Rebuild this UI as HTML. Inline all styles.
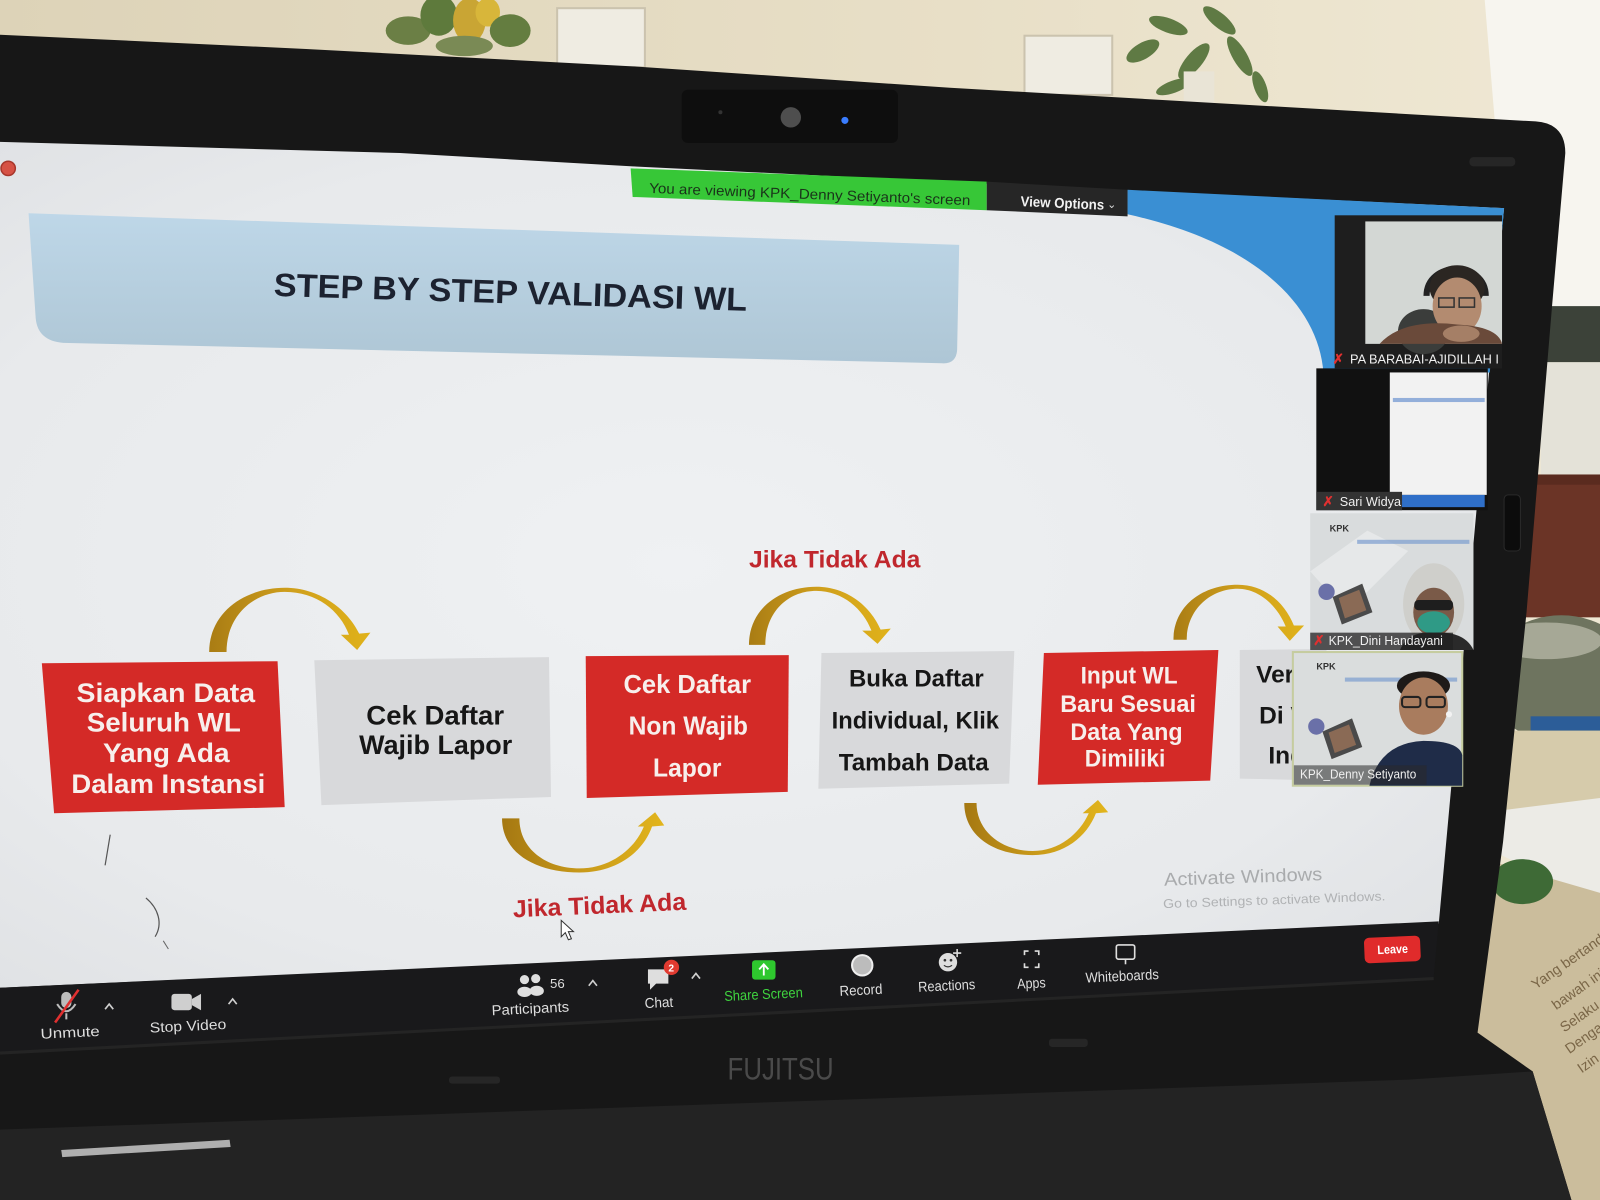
<!DOCTYPE html>
<html><head><meta charset="utf-8"><style>
html,body{margin:0;padding:0;background:#161616;overflow:hidden}
svg{display:block}
text{font-family:"Liberation Sans",Arial,sans-serif}
</style></head><body>
<svg width="1600" height="1200" viewBox="0 0 1568 1176" preserveAspectRatio="none" xmlns="http://www.w3.org/2000/svg">
<defs>
<linearGradient id="wall" x1="0" y1="0" x2="1" y2="0">
<stop offset="0" stop-color="#ddd3b8"/><stop offset="0.6" stop-color="#e8dfc7"/><stop offset="1" stop-color="#efe8d4"/>
</linearGradient>
<radialGradient id="slide" cx="0.45" cy="0.5" r="0.7">
<stop offset="0" stop-color="#eff1f3"/><stop offset="0.7" stop-color="#e8eaec"/><stop offset="1" stop-color="#dfe1e4"/>
</radialGradient>
<linearGradient id="tbox" x1="0" y1="0" x2="0" y2="1">
<stop offset="0" stop-color="#bed7e8"/><stop offset="1" stop-color="#aec6d5"/>
</linearGradient>
<linearGradient id="gold" x1="0" y1="0" x2="1" y2="0">
<stop offset="0" stop-color="#a97c14"/><stop offset="0.5" stop-color="#cf9f1c"/><stop offset="1" stop-color="#e0b21a"/>
</linearGradient>
<linearGradient id="gold2" x1="0" y1="0" x2="1" y2="0">
<stop offset="0" stop-color="#a57812"/><stop offset="0.5" stop-color="#c99a1a"/><stop offset="1" stop-color="#e2b51c"/>
</linearGradient>
</defs>

<!-- wall -->
<rect x="0" y="0" width="1568" height="1176" fill="url(#wall)"/>
<!-- window -->
<polygon points="1455,0 1568,0 1568,310 1490,300 1465,120" fill="#f7f5ef"/>
<!-- left plant -->
<g>
<ellipse cx="400" cy="30" rx="22" ry="14" fill="#6b7f45"/>
<ellipse cx="430" cy="15" rx="18" ry="20" fill="#5e7a3c"/>
<ellipse cx="460" cy="20" rx="16" ry="22" fill="#c9a534"/>
<ellipse cx="478" cy="12" rx="12" ry="14" fill="#d8b63a"/>
<ellipse cx="500" cy="30" rx="20" ry="16" fill="#647d40"/>
<ellipse cx="455" cy="45" rx="28" ry="10" fill="#7a8a55"/>
</g>
<rect x="546" y="8" width="86" height="58" fill="#efece2" stroke="#cbc3ae" stroke-width="2"/>
<rect x="1004" y="35" width="86" height="58" fill="#efece2" stroke="#cbc3ae" stroke-width="2"/>
<!-- right plant -->
<g fill="#5f7a44">
<ellipse cx="1120" cy="50" rx="18" ry="8" transform="rotate(-30 1120 50)"/>
<ellipse cx="1145" cy="25" rx="20" ry="7" transform="rotate(20 1145 25)"/>
<ellipse cx="1170" cy="60" rx="22" ry="8" transform="rotate(-50 1170 60)"/>
<ellipse cx="1195" cy="20" rx="20" ry="7" transform="rotate(40 1195 20)"/>
<ellipse cx="1215" cy="55" rx="22" ry="7" transform="rotate(60 1215 55)"/>
<ellipse cx="1235" cy="85" rx="16" ry="6" transform="rotate(70 1235 85)"/>
<ellipse cx="1150" cy="85" rx="18" ry="6" transform="rotate(-20 1150 85)"/>
</g>
<rect x="1160" y="70" width="30" height="35" fill="#e9e4d6"/>

<!-- right background stuff -->
<rect x="1515" y="300" width="53" height="55" fill="#3c4239"/>
<rect x="1510" y="355" width="58" height="112" fill="#e4e2d8"/>
<rect x="1495" y="465" width="73" height="140" fill="#6b3426"/>
<rect x="1495" y="465" width="73" height="10" fill="#5a2b1f"/>
<ellipse cx="1530" cy="665" rx="75" ry="62" fill="#6e745f"/>
<ellipse cx="1515" cy="628" rx="55" ry="18" fill="#a6a896"/>
<rect x="1500" y="702" width="68" height="14" fill="#2c5d98"/>
<rect x="1470" y="716" width="98" height="80" fill="#d6cbab"/>
<polygon points="1465,795 1568,782 1568,885 1465,835" fill="#ecebe6"/>
<polygon points="1448,840 1568,875 1568,1176 1448,1176" fill="#cbbd9c"/>
<ellipse cx="1492" cy="864" rx="30" ry="22" fill="#3e6a36"/>
<g font-family="Liberation Serif,serif" font-size="14" fill="#7a6647">
<text x="1505" y="970" transform="rotate(-35 1505 970)">Yang bertanda</text>
<text x="1525" y="990" transform="rotate(-35 1525 990)">bawah ini</text>
<text x="1533" y="1012" transform="rotate(-35 1533 1012)">Selaku</text>
<text x="1538" y="1033" transform="rotate(-35 1538 1033)">Denga</text>
<text x="1550" y="1052" transform="rotate(-35 1550 1052)">Izin</text>
</g>

<!-- laptop lid -->
<path d="M0,34 L300,48 L620,65 L931,86 L1505,119 Q1534,121 1534,150 L1521,300 L1496,600 L1473,825 L1448,1012 L1502,1050 L1540,1176 L0,1176 Z" fill="#171717"/>
<!-- base -->
<path d="M0,1107 L1380,1058 L1502,1050 L1540,1176 L0,1176 Z" fill="#232323"/>
<polygon points="60,1127 225,1117 226,1124 61,1134" fill="#c8c8c8" opacity="0.85"/>
<rect x="440" y="1055" width="50" height="7" rx="3" fill="#262626"/>
<rect x="1028" y="1018" width="38" height="8" rx="3" fill="#262626"/>
<text x="713" y="1058" font-size="31" fill="#4a4a4a" textLength="104" lengthAdjust="spacingAndGlyphs">FUJITSU</text>
<!-- webcam -->
<rect x="668" y="88" width="212" height="52" rx="6" fill="#0e0e0e"/>
<circle cx="775" cy="115" r="10" fill="#4e4e4e"/>
<circle cx="828" cy="118" r="3.5" fill="#3a7dff"/>
<circle cx="706" cy="110" r="2" fill="#333"/>
<rect x="1440" y="154" width="45" height="9" rx="4" fill="#262626"/>
<rect x="1474" y="485" width="16" height="55" rx="4" fill="#0c0c0c" stroke="#2a2a2a"/>

<!-- screen / slide -->
<path d="M0,139 L392,150 L620,163 L967,180 L1474,204 L1410,905 L0,968 Z" fill="url(#slide)"/>
<!-- blue corner -->
<path d="M1105,186 L1474,204 L1468,270 L1460,365 L1297,365 C1292,300 1232,238 1105,210 Z" fill="#3a8fd3"/>
<!-- green bar -->
<polygon points="618,165 967,178 967,206 620,193" fill="#37c737"/>
<text x="636" y="189" font-size="14" fill="#1a331a" transform="rotate(2.2 636 189)" textLength="315" lengthAdjust="spacingAndGlyphs">You are viewing KPK_Denny Setiyanto's screen</text>
<polygon points="967,178 1105,186 1105,212 967,206" fill="#262626"/>
<text x="1000" y="202" font-size="14" font-weight="bold" fill="#f2f2f2" transform="rotate(2.5 1000 202)" textLength="82" lengthAdjust="spacingAndGlyphs">View Options</text>
<text x="1085" y="204" font-size="11" fill="#ddd">⌄</text>
<!-- record dot -->
<circle cx="8" cy="165" r="7" fill="#d65245" stroke="#a8372c" stroke-width="1.5"/>

<!-- title box -->
<path d="M28,209 L940,240 L938,343 Q937,357 923,356 L62,336 Q37,334 35,312 Z" fill="url(#tbox)"/>
<text x="268" y="290" font-size="32" font-weight="bold" fill="#1c2230" transform="rotate(1.8 268 290)" textLength="464" lengthAdjust="spacingAndGlyphs">STEP BY STEP VALIDASI WL</text>

<!-- boxes -->
<polygon points="41,650 272,648 279,791 53,797" fill="#d42a27"/>
<polygon points="308,647 538,644 540,781 315,789" fill="#d8d9db"/>
<polygon points="574,643 773,642 772,776 575,782" fill="#d42a27"/>
<polygon points="805,640 994,638 989,768 802,773" fill="#d8d9db"/>
<polygon points="1023,640 1194,637 1186,765 1017,769" fill="#d42a27"/>
<polygon points="1215,637 1300,636 1300,765 1215,763" fill="#d8d9db"/>

<g font-weight="bold" fill="#f7efec" font-size="26">
<text x="75" y="688" textLength="175" lengthAdjust="spacingAndGlyphs">Siapkan Data</text>
<text x="85" y="717" textLength="151" lengthAdjust="spacingAndGlyphs">Seluruh WL</text>
<text x="101" y="747" textLength="124" lengthAdjust="spacingAndGlyphs">Yang Ada</text>
<text x="70" y="777" textLength="190" lengthAdjust="spacingAndGlyphs">Dalam Instansi</text>
</g>
<g font-weight="bold" fill="#161616" font-size="26">
<text x="359" y="710" textLength="135" lengthAdjust="spacingAndGlyphs">Cek Daftar</text>
<text x="352" y="739" textLength="150" lengthAdjust="spacingAndGlyphs">Wajib Lapor</text>
</g>
<g font-weight="bold" fill="#f7efec" font-size="25">
<text x="611" y="679" textLength="125" lengthAdjust="spacingAndGlyphs">Cek Daftar</text>
<text x="616" y="720" textLength="117" lengthAdjust="spacingAndGlyphs">Non Wajib</text>
<text x="640" y="761" textLength="67" lengthAdjust="spacingAndGlyphs">Lapor</text>
</g>
<g font-weight="bold" fill="#161616" font-size="24">
<text x="832" y="673" textLength="132" lengthAdjust="spacingAndGlyphs">Buka Daftar</text>
<text x="815" y="714" textLength="164" lengthAdjust="spacingAndGlyphs">Individual, Klik</text>
<text x="822" y="755" textLength="147" lengthAdjust="spacingAndGlyphs">Tambah Data</text>
</g>
<g font-weight="bold" fill="#f7efec" font-size="24">
<text x="1059" y="670" textLength="95" lengthAdjust="spacingAndGlyphs">Input WL</text>
<text x="1039" y="698" textLength="133" lengthAdjust="spacingAndGlyphs">Baru  Sesuai</text>
<text x="1049" y="725" textLength="110" lengthAdjust="spacingAndGlyphs">Data Yang</text>
<text x="1063" y="751" textLength="79" lengthAdjust="spacingAndGlyphs">Dimiliki</text>
</g>
<g font-weight="bold" fill="#161616" font-size="24">
<text x="1231" y="669">Verifikasi</text>
<text x="1234" y="709">Di Validasi</text>
<text x="1243" y="748">Individu</text>
</g>

<!-- arrows -->
<path d="M205,639 C205,600 240,576 279,576 C312,576 340,596 352,621 L363,620 L350,637 L334,622 L342,622 C333,598 310,580 279,580 C250,580 222,602 222,639 Z" fill="url(#gold)"/>
<path d="M734,632 C734,596 765,575 800,575 C830,575 853,594 863,617 L873,616 L860,631 L845,618 L854,618 C846,597 826,579 800,579 C772,579 750,600 750,632 Z" fill="url(#gold)"/>
<path d="M1150,627 C1150,594 1178,573 1213,573 C1240,573 1259,591 1268,613 L1278,613 L1264,628 L1252,614 L1260,614 C1252,594 1234,577 1213,577 C1186,577 1163,598 1163,627 Z" fill="url(#gold)"/>
<path d="M492,802 C492,836 525,855 568,855 C603,855 630,836 639,810 L651,809 L642,796 L625,810 L631,810 C622,832 598,851 568,851 C535,851 509,832 509,802 Z" fill="url(#gold2)"/>
<path d="M945,787 C945,818 972,838 1012,838 C1043,838 1065,820 1074,797 L1086,796 L1076,784 L1061,797 L1067,797 C1058,817 1038,834 1012,834 C982,834 957,815 957,787 Z" fill="url(#gold2)"/>

<text x="734" y="556" font-size="24" font-weight="bold" fill="#c0272d" textLength="168" lengthAdjust="spacingAndGlyphs">Jika Tidak Ada</text>
<text x="503" y="899" font-size="24" font-weight="bold" fill="#c0272d" transform="rotate(-2.5 503 899)" textLength="170" lengthAdjust="spacingAndGlyphs">Jika Tidak Ada</text>

<!-- activate windows -->
<text x="1141" y="868" font-size="18" fill="#a9abad" transform="rotate(-2 1141 868)" textLength="155" lengthAdjust="spacingAndGlyphs">Activate Windows</text>
<text x="1140" y="890" font-size="12.5" fill="#b0b2b4" transform="rotate(-2 1140 890)" textLength="218" lengthAdjust="spacingAndGlyphs">Go to Settings to activate Windows.</text>

<!-- scribbles & cursor -->
<path d="M108,818 L103,848" stroke="#555" stroke-width="1.2" fill="none"/>
<path d="M143,880 C155,890 160,905 152,918" stroke="#555" stroke-width="1.2" fill="none"/>
<path d="M160,922 L165,930" stroke="#666" stroke-width="1" fill="none"/>
<path d="M550,902 L550,918 L554,914 L557,921 L560,920 L557,913 L562,913 Z" fill="#fff" stroke="#333" stroke-width="1"/>

<!-- video tiles -->
<!-- tile 1 -->
<rect x="1308" y="211" width="164" height="150" fill="#1e1e1e"/>
<rect x="1338" y="217" width="134" height="120" fill="#d3d7d4"/>
<ellipse cx="1395" cy="325" rx="25" ry="22" fill="#3b3d3b"/>
<path d="M1398,290 C1398,255 1456,255 1456,290" stroke="#222" stroke-width="6" fill="none"/>
<ellipse cx="1428" cy="282" rx="27" ry="22" fill="#2b2622"/>
<ellipse cx="1428" cy="300" rx="24" ry="28" fill="#b38b70"/>
<rect x="1410" y="292" width="15" height="9" fill="none" stroke="#333" stroke-width="1.5"/>
<rect x="1430" y="292" width="15" height="9" fill="none" stroke="#333" stroke-width="1.5"/>
<path d="M1352,337 Q1375,312 1428,318 Q1468,320 1472,337 Z" fill="#6a4a3a"/>
<ellipse cx="1432" cy="327" rx="18" ry="8" fill="#a57f66"/>
<text x="1306" y="356" font-size="13" font-weight="bold" fill="#e03030">✗</text>
<text x="1323" y="356" font-size="12.5" fill="#f0f0f0" textLength="146" lengthAdjust="spacingAndGlyphs">PA BARABAI-AJIDILLAH I</text>
<!-- tile 2 -->
<rect x="1290" y="361" width="168" height="139" fill="#111"/>
<rect x="1362" y="365" width="95" height="120" fill="#f2f2f2"/>
<rect x="1365" y="390" width="90" height="4" fill="#6b93d0" opacity="0.7"/>
<rect x="1362" y="485" width="93" height="12" fill="#2f6fc8"/>
<rect x="1290" y="482" width="84" height="18" fill="#333"/>
<text x="1296" y="496" font-size="13" font-weight="bold" fill="#e03030">✗</text>
<text x="1313" y="496" font-size="13" fill="#f0f0f0" textLength="60" lengthAdjust="spacingAndGlyphs">Sari Widya</text>
<!-- tile 3 -->
<rect x="1284" y="503" width="160" height="134" fill="#d9dcdd"/>
<polygon points="1284,560 1340,520 1380,540 1320,600" fill="#e6e8e9"/>
<text x="1303" y="521" font-size="9" font-weight="bold" fill="#333">KPK</text>
<rect x="1330" y="529" width="110" height="4" fill="#7a9ccf" opacity="0.7"/>
<circle cx="1300" cy="580" r="8" fill="#6a70a8"/>
<polygon points="1306,585 1335,572 1345,600 1315,612" fill="#4a4a4a"/>
<polygon points="1312,586 1332,578 1339,598 1318,606" fill="#8a6a55"/>
<ellipse cx="1405" cy="592" rx="30" ry="40" fill="#cfcfcb"/>
<ellipse cx="1405" cy="600" rx="20" ry="24" fill="#7a5a48"/>
<rect x="1386" y="588" width="38" height="10" rx="4" fill="#1e1e1e"/>
<ellipse cx="1405" cy="610" rx="16" ry="11" fill="#2f9a86"/>
<path d="M1372,637 Q1380,618 1405,620 Q1435,618 1444,637 Z" fill="#2a2a2a"/>
<rect x="1284" y="620" width="140" height="17" fill="#222" opacity="0.75"/>
<text x="1287" y="632" font-size="13" font-weight="bold" fill="#e03030">✗</text>
<text x="1302" y="632" font-size="13" fill="#f0f0f0" textLength="112" lengthAdjust="spacingAndGlyphs">KPK_Dini Handayani</text>
<!-- tile 4 -->
<rect x="1267" y="639" width="166" height="131" fill="#dadddd" stroke="#c5cc9f" stroke-width="2"/>
<text x="1290" y="656" font-size="9" font-weight="bold" fill="#333">KPK</text>
<rect x="1318" y="664" width="110" height="4" fill="#7a9ccf" opacity="0.7"/>
<circle cx="1290" cy="712" r="8" fill="#6a70a8"/>
<polygon points="1296,717 1325,704 1335,732 1305,744" fill="#4a4a4a"/>
<polygon points="1302,718 1322,710 1329,730 1308,738" fill="#8a6a55"/>
<ellipse cx="1395" cy="672" rx="26" ry="14" fill="#1e1a18"/>
<ellipse cx="1395" cy="692" rx="24" ry="28" fill="#a97c5e"/>
<rect x="1374" y="683" width="18" height="10" rx="3" fill="none" stroke="#222" stroke-width="2"/>
<rect x="1398" y="683" width="18" height="10" rx="3" fill="none" stroke="#222" stroke-width="2"/>
<circle cx="1420" cy="700" r="3" fill="#f2f2f2"/>
<path d="M1342,770 Q1352,728 1395,726 Q1430,726 1433,740 L1433,770 Z" fill="#1f2c48"/>
<rect x="1268" y="750" width="130" height="19" fill="#2a2a2a" opacity="0.55"/>
<text x="1274" y="763" font-size="13" fill="#f0f0f0" textLength="114" lengthAdjust="spacingAndGlyphs">KPK_Denny Setiyanto</text>

<!-- toolbar -->
<polygon points="0,968 1410,903 1405,958 0,1031" fill="#19191b"/>
<line x1="0" y1="1032" x2="1405" y2="959" stroke="#242424" stroke-width="3"/>
<g fill="#dedede" font-size="14">
<text x="40" y="1018" transform="rotate(-2.8 40 1018)" textLength="58" lengthAdjust="spacingAndGlyphs">Unmute</text>
<text x="147" y="1012" transform="rotate(-2.8 147 1012)" textLength="75" lengthAdjust="spacingAndGlyphs">Stop Video</text>
<text x="539" y="968" font-size="13">56</text>
<text x="482" y="995" transform="rotate(-2.8 482 995)" textLength="76" lengthAdjust="spacingAndGlyphs">Participants</text>
<text x="632" y="988" transform="rotate(-2.8 632 988)" textLength="28" lengthAdjust="spacingAndGlyphs">Chat</text>
<text x="823" y="976" transform="rotate(-2.8 823 976)" textLength="42" lengthAdjust="spacingAndGlyphs">Record</text>
<text x="900" y="972" transform="rotate(-2.8 900 972)" textLength="56" lengthAdjust="spacingAndGlyphs">Reactions</text>
<text x="997" y="969" transform="rotate(-2.8 997 969)" textLength="28" lengthAdjust="spacingAndGlyphs">Apps</text>
<text x="1064" y="963" transform="rotate(-2.8 1064 963)" textLength="72" lengthAdjust="spacingAndGlyphs">Whiteboards</text>
</g>
<text x="710" y="981" font-size="14" fill="#3fd43f" transform="rotate(-2.8 710 981)" textLength="77" lengthAdjust="spacingAndGlyphs">Share Screen</text>
<g stroke="#cfcfcf" stroke-width="1.6" fill="none">
<polyline points="103,989 107,984 111,989"/>
<polyline points="224,984 228,979 232,984"/>
<polyline points="577,966 581,961 585,966"/>
<polyline points="678,959 682,954 686,959"/>
</g>
<!-- mic -->
<rect x="60" y="972" width="10" height="16" rx="5" fill="#bdbdbd"/>
<path d="M56,984 Q65,998 74,984" stroke="#bdbdbd" stroke-width="2" fill="none"/>
<line x1="65" y1="993" x2="65" y2="999" stroke="#bdbdbd" stroke-width="2"/>
<line x1="54" y1="1002" x2="77" y2="970" stroke="#e03030" stroke-width="2.5"/>
<!-- camera -->
<rect x="168" y="974" width="20" height="16" rx="3" fill="#cfcfcf"/>
<polygon points="188,979 197,974 197,990 188,985" fill="#cfcfcf"/>
<!-- participants -->
<circle cx="514" cy="960" r="4.5" fill="#dedede"/>
<circle cx="525" cy="959" r="4.5" fill="#dedede"/>
<ellipse cx="514" cy="972" rx="7" ry="5" fill="#dedede"/>
<ellipse cx="526" cy="971" rx="7" ry="5" fill="#dedede"/>
<!-- chat -->
<path d="M635,950 h20 v14 h-12 l-6,6 v-6 h-2 z" fill="#dedede"/>
<circle cx="658" cy="948" r="7.5" fill="#e03a30"/>
<text x="655" y="952" font-size="10" font-weight="bold" fill="#fff">2</text>
<!-- share -->
<rect x="737" y="941" width="23" height="19" rx="3" fill="#2ec82e"/>
<path d="M748.5,956 v-10 M744,950 l4.5,-5 l4.5,5" stroke="#fff" stroke-width="1.8" fill="none"/>
<!-- record -->
<circle cx="845" cy="946" r="10" fill="#bcbcbc" stroke="#eee" stroke-width="2"/>
<!-- reactions -->
<circle cx="929" cy="943" r="9" fill="#dedede"/>
<circle cx="926" cy="941" r="1.3" fill="#333"/><circle cx="932" cy="941" r="1.3" fill="#333"/>
<path d="M925,946 Q929,949 933,946" stroke="#333" stroke-width="1.2" fill="none"/>
<path d="M938,930 v8 M934,934 h8" stroke="#dedede" stroke-width="1.5"/>
<!-- apps -->
<g stroke="#dedede" stroke-width="1.6" fill="none">
<path d="M1004,936 v-4 h4 M1014,932 h4 v4 M1018,944 v4 h-4 M1008,948 h-4 v-4"/>
</g>
<!-- whiteboards -->
<rect x="1094" y="926" width="18" height="14" rx="2" fill="none" stroke="#dedede" stroke-width="1.6"/>
<line x1="1103" y1="940" x2="1103" y2="945" stroke="#dedede" stroke-width="1.6"/>
<!-- leave -->
<rect x="1337" y="918" width="55" height="25" rx="5" fill="#e02b2b" transform="rotate(-2.5 1364 930)"/>
<text x="1350" y="935" font-size="12" font-weight="bold" fill="#fff" transform="rotate(-2.5 1350 935)" textLength="30" lengthAdjust="spacingAndGlyphs">Leave</text>
</svg>
</body></html>
